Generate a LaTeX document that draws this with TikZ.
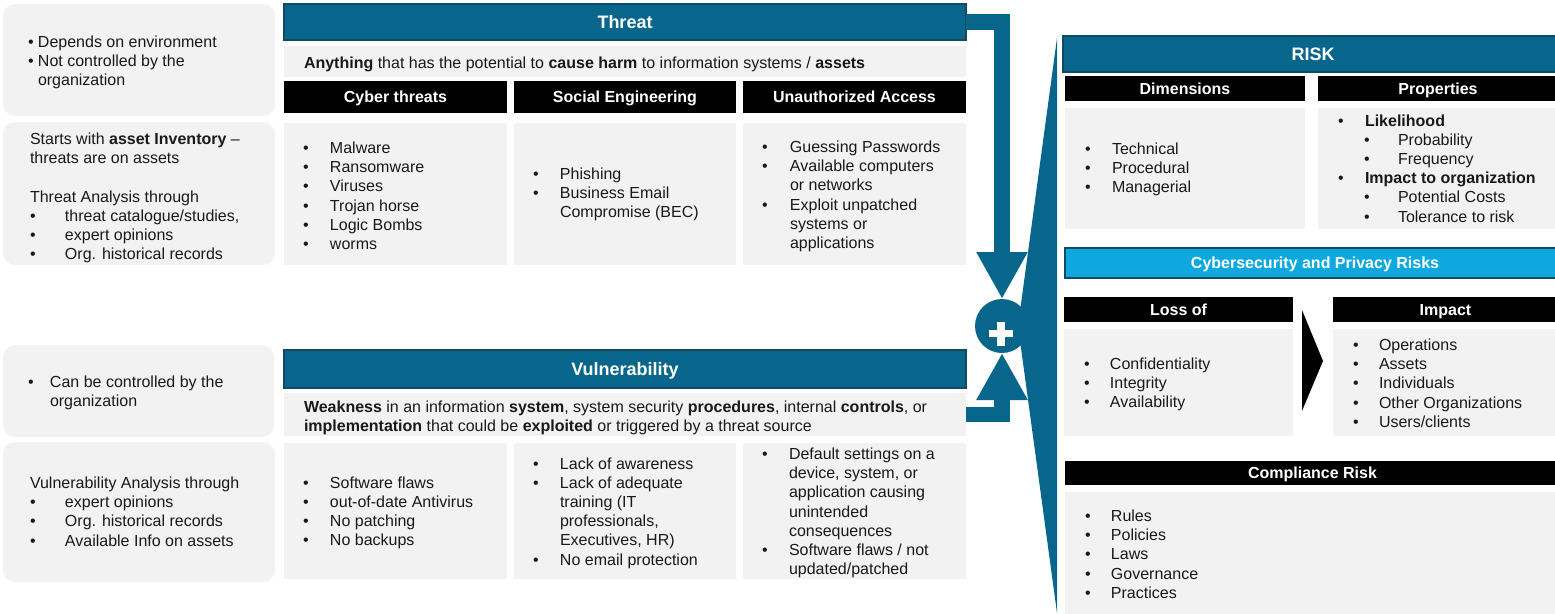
\documentclass[tikz,border=0pt]{standalone}
\usepackage{fontspec}
\setmainfont{Liberation Sans}
\usetikzlibrary{arrows.meta}

\definecolor{riskteal}{RGB}{8,102,140}
\definecolor{tealedge}{RGB}{16,74,100}
\definecolor{skyband}{RGB}{14,168,222}
\definecolor{panel}{RGB}{242,242,242}
\definecolor{ink}{RGB}{25,25,25}

% bullet in a box of given width, then the item text
\newcommand{\bul}[2]{\makebox[#1][l]{\textbullet}#2}
% lines of a text block, first baseline at the node's base
\newcommand{\lines}[1]{\begin{tabular}[t]{@{}l@{}}#1\end{tabular}}

\tikzset{
  every node/.style={font=\fontsize{16}{19.2}\selectfont, text=ink},
  panelbox/.style={fill=panel, inner sep=0pt, outer sep=0pt, anchor=north west},
  softbox/.style={panelbox, rounded corners=12pt},
  blackbar/.style={fill=black, text=white, font=\fontsize{16}{19.2}\selectfont\bfseries,
    text height=11.5pt, text depth=0pt, inner sep=0pt, outer sep=0pt, anchor=north west},
  headband/.style={fill=riskteal, draw=tealedge, line width=2pt, text=white,
    font=\fontsize{18}{21}\selectfont\bfseries, text height=13pt, text depth=0pt,
    inner sep=0pt, outer sep=0pt, anchor=north west},
  subband/.style={headband, fill=skyband, font=\fontsize{16}{19.2}\selectfont\bfseries,
    text height=11.5pt},
  txt/.style={anchor=base west, inner sep=0pt, outer sep=0pt},
  conn/.style={draw=riskteal, line width=15.5pt, -{Triangle[width=48pt,length=47pt]}},
}

\begin{document}
\begin{tikzpicture}[x=1pt,y=-1pt]
\useasboundingbox (0,0) rectangle (1555,613);
\clip (0,0) rectangle (1555,613);

% ---------- left notes ----------
\node[softbox, minimum width=272pt, minimum height=112pt] (envbox) at (3,4) {};
\node[softbox, minimum width=272pt, minimum height=143pt] (invbox) at (3,122) {};
\node[softbox, minimum width=271pt, minimum height=92pt] (ctrlbox) at (3,345) {};
\node[softbox, minimum width=272pt, minimum height=140pt] (vanbox) at (3,442) {};

\node[txt] (envtxt) at (28,47.5) {\lines{\bul{10pt}{Depends on environment}\\
  \bul{10pt}{Not controlled by the}\\ \hspace{10pt}organization}};
\node[txt] (invtxt) at (30,144.5) {\lines{Starts with \textbf{asset Inventory} --\\
  threats are on assets\\ \\ Threat Analysis through\\
  \bul{35pt}{threat catalogue/studies,}\\ \bul{35pt}{expert opinions}\\
  \bul{35pt}{Org. historical records}}};
\node[txt] (ctrltxt) at (28,387.5) {\lines{\bul{22pt}{Can be controlled by the}\\
  \hspace{22pt}organization}};
\node[txt] (vantxt) at (30,488.5) {\lines{Vulnerability Analysis through\\
  \bul{35pt}{expert opinions}\\ \bul{35pt}{Org. historical records}\\
  \bul{35pt}{Available Info on assets}}};

% ---------- threat ----------
\node[headband, minimum width=682pt, minimum height=36pt] (thr) at (284,4) {Threat};
\node[panelbox, minimum width=682pt, minimum height=31pt] (tdesc) at (284,46) {};
\node[txt] (tdesctxt) at (304,68) {\textbf{Anything} that has the potential to
  \textbf{cause harm} to information systems / \textbf{assets}};
\node[blackbar, minimum width=223pt, minimum height=32pt] (th1) at (284,81) {Cyber threats};
\node[blackbar, minimum width=222pt, minimum height=32pt] (th2) at (514,81) {Social Engineering};
\node[blackbar, minimum width=223pt, minimum height=32pt] (th3) at (743,81) {Unauthorized Access};
\node[panelbox, minimum width=223pt, minimum height=142pt] (tc1) at (284,123) {};
\node[panelbox, minimum width=222pt, minimum height=142pt] (tc2) at (514,123) {};
\node[panelbox, minimum width=223pt, minimum height=142pt] (tc3) at (743,123) {};

\node[txt] (tc1txt) at (303,153.5) {\lines{\bul{27pt}{Malware}\\ \bul{27pt}{Ransomware}\\
  \bul{27pt}{Viruses}\\ \bul{27pt}{Trojan horse}\\ \bul{27pt}{Logic Bombs}\\ \bul{27pt}{worms}}};
\node[txt] (tc2txt) at (533,179.5) {\lines{\bul{27pt}{Phishing}\\ \bul{27pt}{Business Email}\\
  \hspace{27pt}Compromise (BEC)}};
\node[txt] (tc3txt) at (762,152.5) {\lines{\bul{28pt}{Guessing Passwords}\\
  \bul{28pt}{Available computers}\\ \hspace{28pt}or networks\\ \bul{28pt}{Exploit unpatched}\\
  \hspace{28pt}systems or\\ \hspace{28pt}applications}};

% ---------- vulnerability ----------
\node[headband, minimum width=682pt, minimum height=38pt] (vul) at (284,350) {Vulnerability};
\node[panelbox, minimum width=682pt, minimum height=43pt] (vdesc) at (284,393) {};
\node[txt] (vdesctxt) at (304,412.5) {\lines{\textbf{Weakness} in an information \textbf{system},
  system security \textbf{procedures}, internal \textbf{controls}, or\\
  \textbf{implementation} that could be \textbf{exploited} or triggered by a threat source}};
\node[panelbox, minimum width=223pt, minimum height=136pt] (vc1) at (284,443) {};
\node[panelbox, minimum width=222pt, minimum height=136pt] (vc2) at (514,443) {};
\node[panelbox, minimum width=223pt, minimum height=136pt] (vc3) at (743,443) {};

\node[txt] (vc1txt) at (303,488) {\lines{\bul{27pt}{Software flaws}\\
  \bul{27pt}{out-of-date Antivirus}\\ \bul{27pt}{No patching}\\ \bul{27pt}{No backups}}};
\node[txt] (vc2txt) at (533,469) {\lines{\bul{27pt}{Lack of awareness}\\
  \bul{27pt}{Lack of adequate}\\ \hspace{27pt}training (IT\\ \hspace{27pt}professionals,\\
  \hspace{27pt}Executives, HR)\\ \bul{27pt}{No email protection}}};
\node[txt] (vc3txt) at (762,459.5) {\lines{\bul{27pt}{Default settings on a}\\
  \hspace{27pt}device, system, or\\ \hspace{27pt}application causing\\
  \hspace{27pt}unintended\\ \hspace{27pt}consequences\\
  \bul{27pt}{Software flaws / not}\\ \hspace{27pt}updated/patched}};

% ---------- combination ----------
\fill[riskteal] (1057,38) -- (1057,613) -- (1018,326) -- cycle;
\node[circle, fill=riskteal, minimum size=54pt, inner sep=0pt, outer sep=0pt] (plus) at (1002,326) {};
\draw[conn] (thr.east) -| (plus.north);
\draw[conn] (vdesc.east) -| (plus.south);
\fill[white] (989,330) rectangle (1013,337);
\fill[white] (997,322) rectangle (1005,345.5);

% ---------- risk ----------
\node[headband, minimum width=500pt, minimum height=36pt] (risk) at (1063,36) {RISK};
\node[blackbar, minimum width=240pt, minimum height=25pt] (dimh) at (1065,76) {Dimensions};
\node[blackbar, minimum width=240pt, minimum height=25pt] (proph) at (1318,76) {Properties};
\node[panelbox, minimum width=240pt, minimum height=121pt] (dimc) at (1065,108) {};
\node[panelbox, minimum width=240pt, minimum height=121pt] (propc) at (1318,108) {};
\node[txt] (dimtxt) at (1085,154.5) {\lines{\bul{27pt}{Technical}\\
  \bul{27pt}{Procedural}\\ \bul{27pt}{Managerial}}};
\node[txt] (proptxt) at (1338,126) {\lines{\bul{27pt}{\textbf{Likelihood}}\\
  \hspace{26pt}\bul{34pt}{Probability}\\ \hspace{26pt}\bul{34pt}{Frequency}\\
  \bul{27pt}{\textbf{Impact to organization}}\\
  \hspace{26pt}\bul{34pt}{Potential Costs}\\ \hspace{26pt}\bul{34pt}{Tolerance to risk}}};

\node[subband, minimum width=500pt, minimum height=30pt] (cyb) at (1065,248) {Cybersecurity and Privacy Risks};
\node[blackbar, minimum width=229pt, minimum height=25pt] (lossh) at (1064,297) {Loss of};
\node[blackbar, minimum width=225pt, minimum height=25pt] (imph) at (1333,297) {Impact};
\node[panelbox, minimum width=229pt, minimum height=107pt] (lossc) at (1064,329) {};
\node[panelbox, minimum width=225pt, minimum height=107pt] (impc) at (1333,329) {};
\fill[black] (1302,310) -- (1323,361) -- (1302,411) -- cycle;
\node[txt] (losstxt) at (1084,369.5) {\lines{\bul{26pt}{Confidentiality}\\
  \bul{26pt}{Integrity}\\ \bul{26pt}{Availability}}};
\node[txt] (imptxt) at (1353,350.5) {\lines{\bul{26pt}{Operations}\\ \bul{26pt}{Assets}\\
  \bul{26pt}{Individuals}\\ \bul{26pt}{Other Organizations}\\ \bul{26pt}{Users/clients}}};

\node[blackbar, minimum width=495pt, minimum height=24pt] (comph) at (1065,461) {Compliance Risk};
\node[panelbox, minimum width=495pt, minimum height=125pt] (compc) at (1065,492) {};
\node[txt] (comptxt) at (1085,521.5) {\lines{\bul{26pt}{Rules}\\ \bul{26pt}{Policies}\\
  \bul{26pt}{Laws}\\ \bul{26pt}{Governance}\\ \bul{26pt}{Practices}}};
\end{tikzpicture}
\end{document}
